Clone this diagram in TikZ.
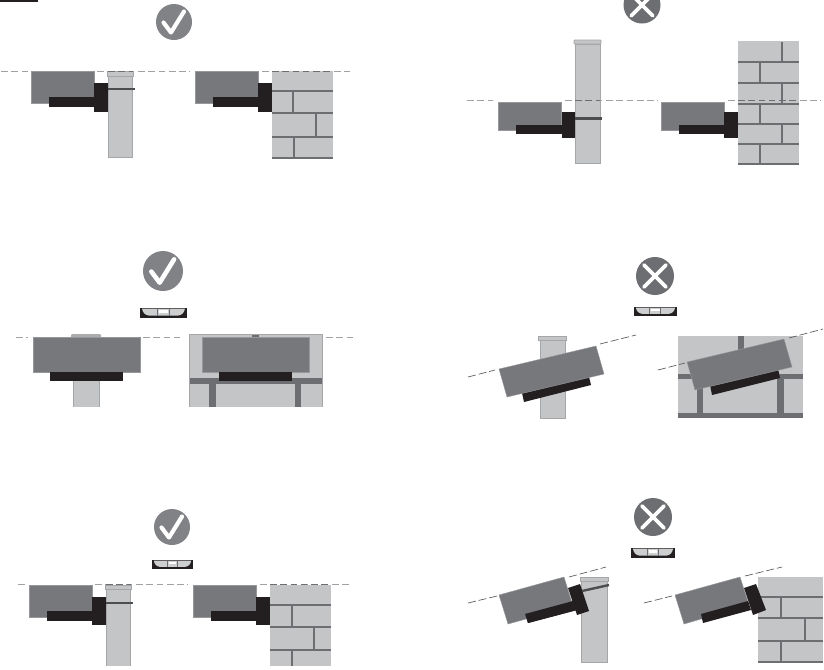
\documentclass[tikz,border=0pt]{standalone}
\definecolor{poleC}{HTML}{C4C5C7}
\definecolor{edgeC}{HTML}{A5A6A8}
\definecolor{camC}{HTML}{77787B}
\definecolor{blackC}{HTML}{231F20}
\definecolor{okC}{HTML}{808285}
\definecolor{noC}{HTML}{6D6E71}
\definecolor{dashC}{HTML}{A0A1A4}
\tikzset{
 pic1/.style={x=0.75pt,y=-0.75pt},
 polefill/.style={fill=poleC,draw=edgeC,line width=.7pt},
 wallfill/.style={fill=poleC,draw=none},
 cam/.style={fill=camC,draw=edgeC!70!camC,line width=.3pt},
 blk/.style={fill=blackC,draw=none},
 mortar/.style={draw=noC,line width=1.6pt},
 thickmortar/.style={fill=noC,draw=none},
 guide/.style={draw=dashC,line width=.75pt,dash pattern=on 5pt off 2.7pt},
 guidedark/.style={draw=noC,line width=.75pt,dash pattern=on 5pt off 2.7pt},
 thin guide/.style={draw=black!65,line width=.5pt,dash pattern=on 6pt off 2.2pt},
 screw/.style={draw=noC!70!black,line width=1.8pt},
 mark stroke/.style={draw=white,line cap=round,line join=round},
}
\newcommand{\okmark}[3]{
 \begin{scope}[shift={(#1,#2)},scale=#3/18]
  \fill[okC] (0,0) circle (18);
  \draw[mark stroke,line width=#3/18*3.1pt] (-10.5,0.5) -- (-3,10.5) -- (10,-10.5);
 \end{scope}}
\newcommand{\nomark}[3]{
 \begin{scope}[shift={(#1,#2)},scale=#3/18]
  \fill[noC] (0,0) circle (18);
  \draw[mark stroke,line width=#3/18*2.6pt] (-10.5,-10.5) -- (10.5,10.5) (-10.5,10.5) -- (10.5,-10.5);
 \end{scope}}
\newcommand{\levelbar}[4]{
 \begin{scope}[shift={(#1,#2)},x=#3*0.75pt/47,y=-#4*0.75pt/10]
  \fill[blackC] (0,0) rectangle (47,10);
  \fill[poleC!85!white] (2,0.6) .. controls (3,5) and (5,7) .. (9,7.6) -- (38,7.6) .. controls (42,7) and (44,5) .. (45,0.6) -- cycle;
  \draw[noC,line width=.4pt] (17,0.6) -- (17,7.6) (29,0.6) -- (29,7.6);
  \fill[white] (19,2.4) rectangle (28,4.8);
 \end{scope}}
\begin{document}
\begin{tikzpicture}[pic1]
\useasboundingbox (0,0) rectangle (824,669);
\fill[white] (0,0) rectangle (824,669);
\fill[blackC] (0,0) rectangle (38,1.5);

% ---------- top left
\okmark{174}{22}{18}
\draw[guide] (1,71) -- (28,71) (97,71) -- (190,71) (262,71) -- (350,71);
\draw[polefill] (108,76) rectangle (132,157);
\draw[polefill] (107,71) rectangle (133,76);
\draw[guidedark] (108,71) -- (133,71);
\fill[cam] (31,71.5) rectangle (94,103);
\fill[blk] (49,97) rectangle (95,107);
\fill[blk] (94,83) rectangle (108,112);
\draw[screw] (108,89) -- (135,89);
\fill[wallfill] (272,71) rectangle (333,157);
\draw[guidedark] (272,71) -- (333,71);
\draw[mortar] (272,91) -- (333,91) (272,113) -- (333,113) (272,137) -- (333,137) (272,158) -- (333,158);
\draw[mortar] (293,91) -- (293,113) (316,113) -- (316,137) (294,137) -- (294,158);
\fill[cam] (195,71.5) rectangle (258,103);
\fill[blk] (213,97) rectangle (259,107);
\fill[blk] (258,83) rectangle (272,112);

% ---------- top right
\nomark{642}{5}{18.5}
\draw[polefill] (575,44) rectangle (600,163);
\draw[polefill,rounded corners=.6pt] (574,40) rectangle (601,44);
\draw[guide] (467,100.5) -- (493,100.5) (565,100.5) -- (658,100.5) (728,100.5) -- (821,100.5);
\draw[guidedark] (575,100.5) -- (600,100.5);
\fill[cam] (498,102) rectangle (561,130);
\fill[blk] (516,125) rectangle (563,134);
\fill[blk] (562,112) rectangle (575,138);
\draw[screw] (575,118.5) -- (602,118.5);
\fill[wallfill] (738,41) rectangle (799,164);
\draw[mortar] (738,62) -- (799,62) (738,83) -- (799,83) (738,104) -- (799,104) (738,124) -- (799,124) (738,144) -- (799,144) (738,164) -- (799,164);
\draw[mortar] (782,42) -- (782,62) (760,62) -- (760,83) (782,83) -- (782,104) (760,104) -- (760,124) (782,124) -- (782,144) (760,144) -- (760,164);
\draw[guidedark] (738,100.5) -- (799,100.5);
\fill[cam] (661,102) rectangle (724,130);
\fill[blk] (679,125) rectangle (725,134);
\fill[blk] (724,112) rectangle (738,138);

% ---------- middle left
\okmark{163}{271}{20}
\levelbar{140}{308}{47}{10}
\draw[guide] (16,337.5) -- (28,337.5) (143,337.5) -- (183,337.5) (326,337.5) -- (356,337.5);
\fill[poleC] (73,381) rectangle (99,407);
\draw[edgeC,line width=.7pt] (73,381) -- (73,407) (99,381) -- (99,407);
\fill[edgeC!80!poleC] (71,337) -- (71,335) -- (72,334) -- (100,334) -- (101,335) -- (101,337) -- cycle;
\fill[cam] (33,337) rectangle (140,372);
\fill[blk] (50,372) rectangle (123,381);
\fill[wallfill] (189,334) rectangle (322,407);
\fill[thickmortar] (189,378) rectangle (322,384);
\fill[thickmortar] (209,384) rectangle (216,407);
\fill[thickmortar] (295,384) rectangle (301,407);
\fill[thickmortar] (252,334) rectangle (259,337);
\draw[edgeC,line width=.5pt] (189,407) -- (189,334) -- (322,334) -- (322,407);
\fill[cam] (202,337) rectangle (309,372);
\fill[blk] (219,372) rectangle (292,381);

% ---------- middle right
\nomark{655}{276}{19}
\levelbar{634}{307}{43}{9}
\draw[polefill] (540,340) rectangle (565,418);
\draw[polefill] (538,336) rectangle (566,340);
\draw[thin guide] (468,377) -- (495,370) (600,344) -- (636,335);
\fill[blk] (522,393) -- (589,377) -- (591,385) -- (524,402) -- cycle;
\fill[cam] (499,369) -- (596,346) -- (604,374) -- (507,397) -- cycle;
\fill[wallfill] (678,336) rectangle (803,418);
\fill[thickmortar] (678,374) rectangle (803,379);
\fill[thickmortar] (678,413) rectangle (803,418);
\fill[thickmortar] (738,336) rectangle (744,352);
\fill[thickmortar] (697,379) rectangle (703,413);
\fill[thickmortar] (777,379) rectangle (784,413);
\draw[thin guide] (658,370) -- (685,363) (789,338) -- (823,329);
\fill[blk] (709,380) -- (777,364) -- (780,378) -- (712,395) -- cycle;
\fill[cam] (687,362) -- (784,339) -- (792,367) -- (695,390) -- cycle;

% ---------- bottom left
\okmark{172}{527}{18}
\levelbar{152}{560}{41}{9}
\draw[guide] (18,584.5) -- (27,584.5) (95,584.5) -- (188,584.5) (260,584.5) -- (350,584.5);
\fill[poleC] (106,589) rectangle (130,666);
\draw[edgeC,line width=.7pt] (106,589) -- (106,666) (130,589) -- (130,666);
\draw[polefill] (105,585) rectangle (131,589);
\draw[guidedark] (106,584.5) -- (131,584.5);
\fill[cam] (29,585) rectangle (92,617);
\fill[blk] (47,611) rectangle (93,621);
\fill[blk] (92,597) rectangle (106,625);
\draw[screw] (106,603) -- (133,603);
\fill[wallfill] (270,585) rectangle (331,666);
\draw[guidedark] (270,584.5) -- (331,584.5);
\draw[mortar] (270,605) -- (331,605) (270,627) -- (331,627) (270,650) -- (331,650);
\draw[mortar] (292,605) -- (292,627) (314,627) -- (314,650) (292,650) -- (292,666);
\fill[cam] (193,585) rectangle (256,617);
\fill[blk] (211,611) rectangle (257,621);
\fill[blk] (256,597) rectangle (270,625);

% ---------- bottom right
\nomark{653}{517}{19}
\levelbar{631}{548}{44}{10}
\draw[polefill] (581,581) rectangle (607,662);
\draw[polefill] (580,577) rectangle (608,581);
\draw[thin guide] (468,603) -- (497,596) (569,577) -- (606,567);
\fill[blk] (525,614) -- (573,601) -- (577,610) -- (528,623) -- cycle;
\fill[cam] (499,595) -- (564,577) -- (573,606) -- (508,624) -- cycle;
\fill[blk] (525,614) -- (573,601) -- (577,610) -- (528,623) -- cycle;
\fill[blk] (568,588) -- (580,584) -- (589,611) -- (577,615) -- cycle;
\draw[screw] (582,591) -- (609,585);
\fill[wallfill] (758,577) rectangle (823,662);
\draw[mortar] (758,597) -- (823,597) (758,618) -- (823,618) (758,641) -- (823,641) (758,662) -- (823,662);
\draw[mortar] (781,597) -- (781,618) (805,618) -- (805,641) (781,641) -- (781,662);
\draw[thin guide] (644,603) -- (672,596) (745,576) -- (782,567);
\fill[cam] (675,595) -- (740,577) -- (749,605) -- (684,624) -- cycle;
\fill[blk] (701,614) -- (748,601) -- (751,610) -- (703,623) -- cycle;
\fill[blk] (744,588) -- (756,584) -- (766,610) -- (753,615) -- cycle;
\end{tikzpicture}
\end{document}
